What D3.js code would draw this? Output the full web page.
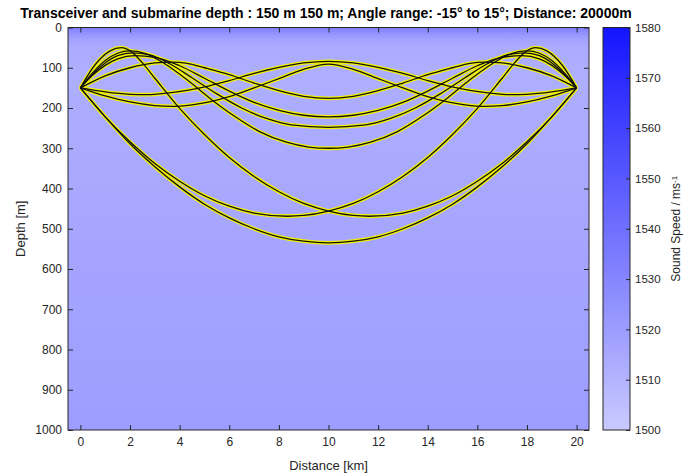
<!DOCTYPE html>
<html>
<head>
<meta charset="utf-8">
<title>ray-trace</title>
<style>
body { margin: 0; background: #fff; font-family: "Liberation Sans", Arial, sans-serif; }
.tick text { font-size: 12px; fill: #262626; }
.tick line { stroke: #262626; }
.cbar .tick text { font-size: 11.5px; }
</style>
<script src="https://cdn.jsdelivr.net/npm/d3@7"></script>
</head>
<body>
<script>
// sound speed profile (depth m -> speed m/s)
var profileDepth = [0, 10, 20, 35, 50, 75, 100, 150, 200, 300, 400, 500, 600, 700, 800, 900, 1000];
var profileSpeed = [1534, 1527, 1521, 1516, 1514, 1513, 1512.5, 1512.5, 1513, 1514, 1515, 1516, 1516.8, 1517.5, 1518.3, 1519, 1519.7];

// ray paths: distance (km) and depth (m)
var rays = [
  { x: [0, 1, 2, 3, 4, 5, 6, 7, 8, 9, 10, 11, 12, 13, 14, 15, 16, 17, 18, 19, 20],
    d: [150, 222, 289, 346, 396, 439, 473, 500, 520, 531, 535, 531, 520, 500, 473, 439, 396, 346, 289, 222, 150] },
  { x: [0, 1, 2, 3, 4, 5, 6, 7, 8.35, 9, 10, 11, 12, 13, 14, 15, 16, 17, 17.5, 17.95, 18.35, 18.8, 19.4, 20],
    d: [150, 222, 284, 338, 382, 418, 444, 461, 469, 467, 456, 437, 408, 370, 323, 266, 201, 126, 88, 60, 50, 58, 92, 150] },
  { x: [0, 0.6, 1.2, 1.65, 2.05, 2.5, 3, 4, 5, 6, 7, 8, 9, 10, 11, 11.65, 13, 14, 15, 16, 17, 18, 19, 20],
    d: [150, 92, 58, 50, 60, 88, 126, 201, 266, 323, 370, 408, 437, 456, 467, 469, 461, 444, 418, 382, 338, 284, 222, 150] },
  { x: [0, 1, 2, 3, 3.7, 4.3, 5, 6, 7, 8, 9, 10, 11, 12, 13, 14, 15, 15.7, 16.3, 17, 18, 19, 20],
    d: [150, 120, 100, 88, 86, 89, 100, 117, 138, 157, 171, 176, 171, 157, 138, 117, 100, 89, 86, 88, 100, 120, 150] },
  { x: [0, 0.5, 1, 1.5, 2.2, 3, 4, 5, 6, 7, 8, 9, 10, 11, 12, 13, 14, 15, 16, 17, 17.8, 18.5, 19, 19.5, 20],
    d: [150, 118, 94, 78, 70, 74, 95, 126, 158, 186, 206, 218, 222, 218, 206, 186, 158, 126, 95, 74, 70, 78, 94, 118, 150] },
  { x: [0, 0.5, 1, 1.5, 2.1, 2.8, 3.6, 4.5, 5.5, 6.5, 7.5, 8.5, 10, 11.5, 12.5, 13.5, 14.5, 15.5, 16.4, 17.2, 17.9, 18.5, 19, 19.5, 20],
    d: [150, 115, 88, 70, 63, 68, 90, 125, 165, 200, 226, 242, 248, 242, 226, 200, 165, 125, 90, 68, 63, 70, 88, 115, 150] },
  { x: [0, 0.5, 1, 1.5, 2, 2.6, 3.4, 4.3, 5.2, 6.2, 7.2, 8.3, 9.2, 10, 10.8, 11.7, 12.8, 13.8, 14.8, 15.7, 16.6, 17.4, 18, 18.5, 19, 19.5, 20],
    d: [150, 112, 82, 64, 58, 64, 90, 130, 175, 220, 258, 285, 297, 300, 297, 285, 258, 220, 175, 130, 90, 64, 58, 64, 82, 112, 150] },
  { x: [0, 1, 2, 2.7, 3.5, 4.3, 5.2, 6, 7, 8, 9, 10, 11, 12, 13, 14, 14.8, 15.7, 16.5, 17.3, 18, 19, 20],
    d: [150, 160, 166, 167, 163, 156, 145, 132, 114, 99, 88, 84, 88, 99, 114, 132, 145, 156, 163, 167, 166, 160, 150] },
  { x: [0, 1, 2, 3, 3.7, 4.5, 5.2, 6, 7, 8, 9, 10, 11, 12, 13, 14, 14.8, 15.5, 16.3, 17, 18, 19, 20],
    d: [150, 170, 185, 194, 196, 192, 185, 172, 150, 127, 104, 91, 104, 127, 150, 172, 185, 192, 196, 194, 185, 170, 150] }
];

var distTicks = [0, 2, 4, 6, 8, 10, 12, 14, 16, 18, 20];
var depthTicks = [0, 100, 200, 300, 400, 500, 600, 700, 800, 900, 1000];
var speedTicks = [1500, 1510, 1520, 1530, 1540, 1550, 1560, 1570, 1580];

var W = 686, H = 476;
var plot = { left: 68, right: 589, top: 27.5, bottom: 430 };
var cbar = { left: 603, right: 630, top: 27.5, bottom: 430 };

var svg = d3.select("body").append("svg").attr("width", W).attr("height", H);

var x = d3.scaleLinear().domain([-0.5, 20.5]).range([plot.left, plot.right]);
var y = d3.scaleLinear().domain([0, 1000]).range([plot.top, plot.bottom]);
var col = d3.scaleLinear().domain([1500, 1580]).range(["#cacaff", "#1414ff"]);
var fmt = d3.format("d");

var defs = svg.append("defs");

// background gradient from the speed profile
var bg = defs.append("linearGradient").attr("id", "bg")
    .attr("x1", 0).attr("y1", 0).attr("x2", 0).attr("y2", 1);
profileDepth.forEach(function (dep, i) {
    bg.append("stop").attr("offset", dep / 1000).attr("stop-color", col(profileSpeed[i]));
});

var cb = defs.append("linearGradient").attr("id", "cb")
    .attr("x1", 0).attr("y1", 1).attr("x2", 0).attr("y2", 0);
cb.append("stop").attr("offset", 0).attr("stop-color", col(1500));
cb.append("stop").attr("offset", 1).attr("stop-color", col(1580));

defs.append("clipPath").attr("id", "clip").append("rect")
    .attr("x", plot.left).attr("y", plot.top)
    .attr("width", plot.right - plot.left).attr("height", plot.bottom - plot.top);

svg.append("rect")
    .attr("x", plot.left).attr("y", plot.top)
    .attr("width", plot.right - plot.left).attr("height", plot.bottom - plot.top)
    .attr("fill", "url(#bg)");

var line = d3.line()
    .x(function (p) { return x(p[0]); })
    .y(function (p) { return y(p[1]); })
    .curve(d3.curveMonotoneX);

// yellow halo first, black ray on top
var rayG = svg.append("g").attr("clip-path", "url(#clip)");
rays.forEach(function (r) {
    var pts = r.x.map(function (v, i) { return [v, r.d[i]]; });
    rayG.append("path").attr("d", line(pts))
        .attr("fill", "none").attr("stroke", "#f2f200").attr("stroke-width", 3.8)
        .attr("stroke-linejoin", "round");
});
rays.forEach(function (r) {
    var pts = r.x.map(function (v, i) { return [v, r.d[i]]; });
    rayG.append("path").attr("d", line(pts))
        .attr("fill", "none").attr("stroke", "#111").attr("stroke-width", 1.3)
        .attr("stroke-linejoin", "round");
});

// axes, MATLAB style ticks pointing inward
svg.append("g").attr("transform", "translate(0," + plot.bottom + ")")
    .call(d3.axisBottom(x).tickValues(distTicks).tickFormat(fmt).tickSizeInner(-5).tickSizeOuter(0).tickPadding(7))
    .call(function (g) { g.select(".domain").remove(); });
svg.append("g").attr("transform", "translate(0," + plot.top + ")")
    .call(d3.axisTop(x).tickValues(distTicks).tickSizeInner(-5).tickSizeOuter(0).tickFormat(""))
    .call(function (g) { g.select(".domain").remove(); });
svg.append("g").attr("transform", "translate(" + plot.left + ",0)")
    .call(d3.axisLeft(y).tickValues(depthTicks).tickFormat(fmt).tickSizeInner(-5).tickSizeOuter(0).tickPadding(6))
    .call(function (g) { g.select(".domain").remove(); });
svg.append("g").attr("transform", "translate(" + plot.right + ",0)")
    .call(d3.axisRight(y).tickValues(depthTicks).tickSizeInner(-5).tickSizeOuter(0).tickFormat(""))
    .call(function (g) { g.select(".domain").remove(); });

svg.append("rect")
    .attr("x", plot.left).attr("y", plot.top)
    .attr("width", plot.right - plot.left).attr("height", plot.bottom - plot.top)
    .attr("fill", "none").attr("stroke", "#262626").attr("stroke-width", 1);

// colorbar
var cy = d3.scaleLinear().domain([1500, 1580]).range([cbar.bottom, cbar.top]);
svg.append("rect")
    .attr("x", cbar.left).attr("y", cbar.top)
    .attr("width", cbar.right - cbar.left).attr("height", cbar.bottom - cbar.top)
    .attr("fill", "url(#cb)");
svg.append("g").attr("class", "cbar").attr("transform", "translate(" + cbar.right + ",0)")
    .call(d3.axisRight(cy).tickValues(speedTicks).tickFormat(fmt).tickSizeInner(-4).tickSizeOuter(0).tickPadding(5))
    .call(function (g) { g.select(".domain").remove(); });
svg.append("rect")
    .attr("x", cbar.left).attr("y", cbar.top)
    .attr("width", cbar.right - cbar.left).attr("height", cbar.bottom - cbar.top)
    .attr("fill", "none").attr("stroke", "#262626").attr("stroke-width", 1);

var cbl = svg.append("text")
    .attr("transform", "translate(676," + ((cbar.top + cbar.bottom) / 2) + ") rotate(-90)")
    .attr("text-anchor", "middle").attr("dy", "0.35em")
    .style("font-size", "12px").attr("fill", "#262626");
cbl.append("tspan").text("Sound Speed / ms");
cbl.append("tspan").attr("dy", "-0.45em").style("font-size", "8px").text("-1");

// titles
svg.append("text")
    .attr("x", 326).attr("y", 18)
    .attr("text-anchor", "middle")
    .style("font-size", "14px").style("font-weight", "bold").attr("fill", "#000")
    .text("Transceiver and submarine depth : 150 m 150 m; Angle range: -15° to 15°; Distance: 20000m");

svg.append("text")
    .attr("x", (plot.left + plot.right) / 2).attr("y", 470)
    .attr("text-anchor", "middle")
    .style("font-size", "13px").attr("fill", "#262626")
    .text("Distance [km]");

svg.append("text")
    .attr("transform", "translate(20," + ((plot.top + plot.bottom) / 2) + ") rotate(-90)")
    .attr("text-anchor", "middle").attr("dy", "0.35em")
    .style("font-size", "13px").attr("fill", "#262626")
    .text("Depth [m]");
</script>
</body>
</html>
